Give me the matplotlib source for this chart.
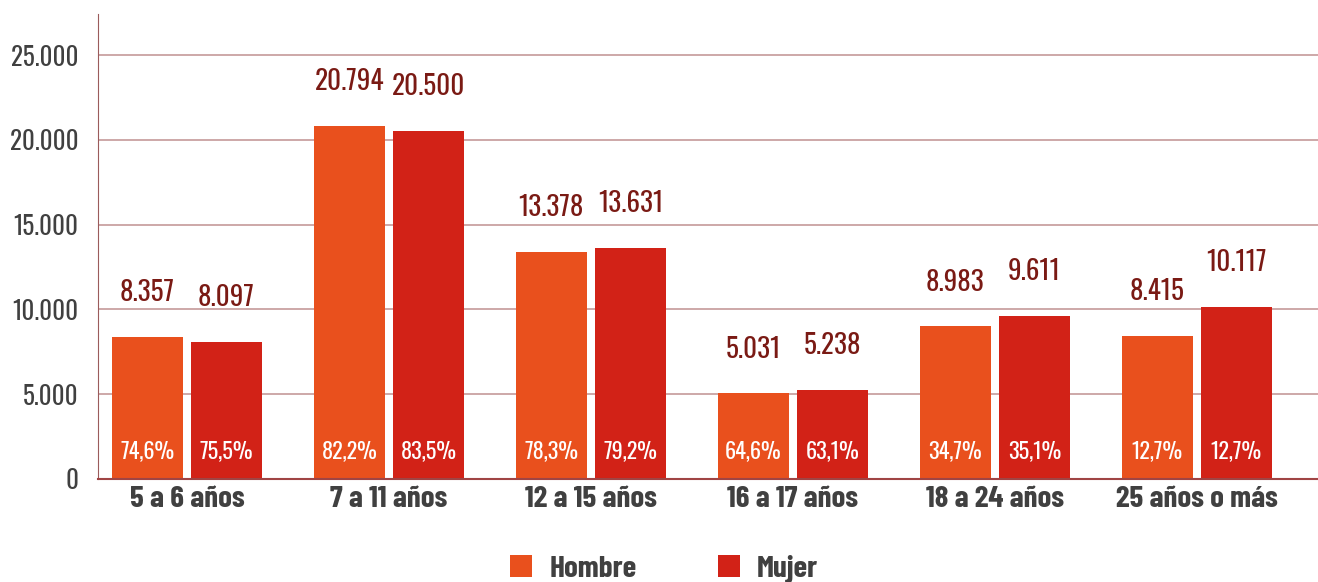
import matplotlib.pyplot as plt
import numpy as np
from matplotlib import font_manager

# Data
categories = ["5 a 6 años", "7 a 11 años", "12 a 15 años", "16 a 17 años", "18 a 24 años", "25 años o más"]
hombre = [8357, 20794, 13378, 5031, 8983, 8415]
mujer = [8097, 20500, 13631, 5238, 9611, 10117]
pct_hombre = [74.6, 82.2, 78.3, 64.6, 34.7, 12.7]
pct_mujer = [75.5, 83.5, 79.2, 63.1, 35.1, 12.7]
yticks = [0, 5000, 10000, 15000, 20000, 25000]

# condensed font: Oswald if it is there, else Barlow Condensed
fonts = font_manager.fontManager.ttflist
oswald = [f for f in fonts if f.name == "Oswald"]
oswald_bold = [f for f in oswald if f.weight in (600, 700, "bold", "semibold") and "[" not in f.fname]
reg_font = "Oswald" if oswald else "Barlow Condensed"
bold_font = "Oswald" if oswald_bold else "Barlow Condensed"
k_reg = 1.0 if oswald else 1.15
k_bold = 1.0 if oswald_bold else 1.15
plt.rcParams["font.family"] = [reg_font, "DejaVu Sans"]

c_hombre = "#E9501D"
c_mujer = "#D22217"
c_value = "#7A1A14"
c_text = "#404040"


def miles(v):
    return f"{v:,}".replace(",", ".")


def pct(p):
    return f"{p:.1f}%".replace(".", ",")


fig = plt.figure(figsize=(13.18, 5.82), dpi=100)
ax = fig.add_axes([98 / 1318, 1 - 478.75 / 582, 1 - 98 / 1318, (478.75 - 14) / 582])

x = np.arange(len(categories))
w = 0.35
off = 0.196
b1 = ax.bar(x - off, hombre, w, color=c_hombre, label="Hombre", zorder=2)
b2 = ax.bar(x + off, mujer, w, color=c_mujer, label="Mujer", zorder=2)

for bars, vals, pcts in [(b1, hombre, pct_hombre), (b2, mujer, pct_mujer)]:
    for r, v, p in zip(bars, vals, pcts):
        cx = r.get_x() + r.get_width() / 2
        ax.annotate(miles(v), (cx, v), xytext=(0, 32), textcoords="offset points",
                    ha="center", va="center", fontsize=19.5 * k_reg, color=c_value)
        ax.annotate(pct(p), (cx, 0), xytext=(0, 20), textcoords="offset points",
                    ha="center", va="center", fontsize=16 * k_reg, color="white", zorder=3)

ax.set_xlim(-0.44, 5.6)
ax.set_ylim(0, 27420)
ax.set_yticks(yticks)
ax.set_yticklabels([miles(t) for t in yticks], fontsize=18 * k_reg, color=c_text)
ax.set_xticks(x)
ax.set_xticklabels(categories, fontsize=19.5 * k_bold, fontweight="bold", color=c_text,
                   family=[bold_font, "DejaVu Sans"])
ax.tick_params(axis="y", length=0, pad=14)
ax.tick_params(axis="x", length=0, pad=5)

ax.grid(axis="y", color="#C59A9A", linewidth=1.2)
ax.set_axisbelow(True)
for s in ["top", "right"]:
    ax.spines[s].set_visible(False)
ax.spines["left"].set_color("#9B5B5B")
ax.spines["bottom"].set_color("#A04444")
ax.spines["bottom"].set_linewidth(1.5)

leg = fig.legend(loc="center", bbox_to_anchor=(664 / 1318, 1 - 569 / 582), ncol=2,
                 frameon=False, handlelength=0.72, handleheight=0.72, columnspacing=2.6,
                 handletextpad=0.55,
                 prop={"size": 19.5 * k_bold, "weight": "bold", "family": [bold_font, "DejaVu Sans"]})
for t in leg.get_texts():
    t.set_color(c_text)

fig.savefig("out.png", dpi=100)
plt.close(fig)
